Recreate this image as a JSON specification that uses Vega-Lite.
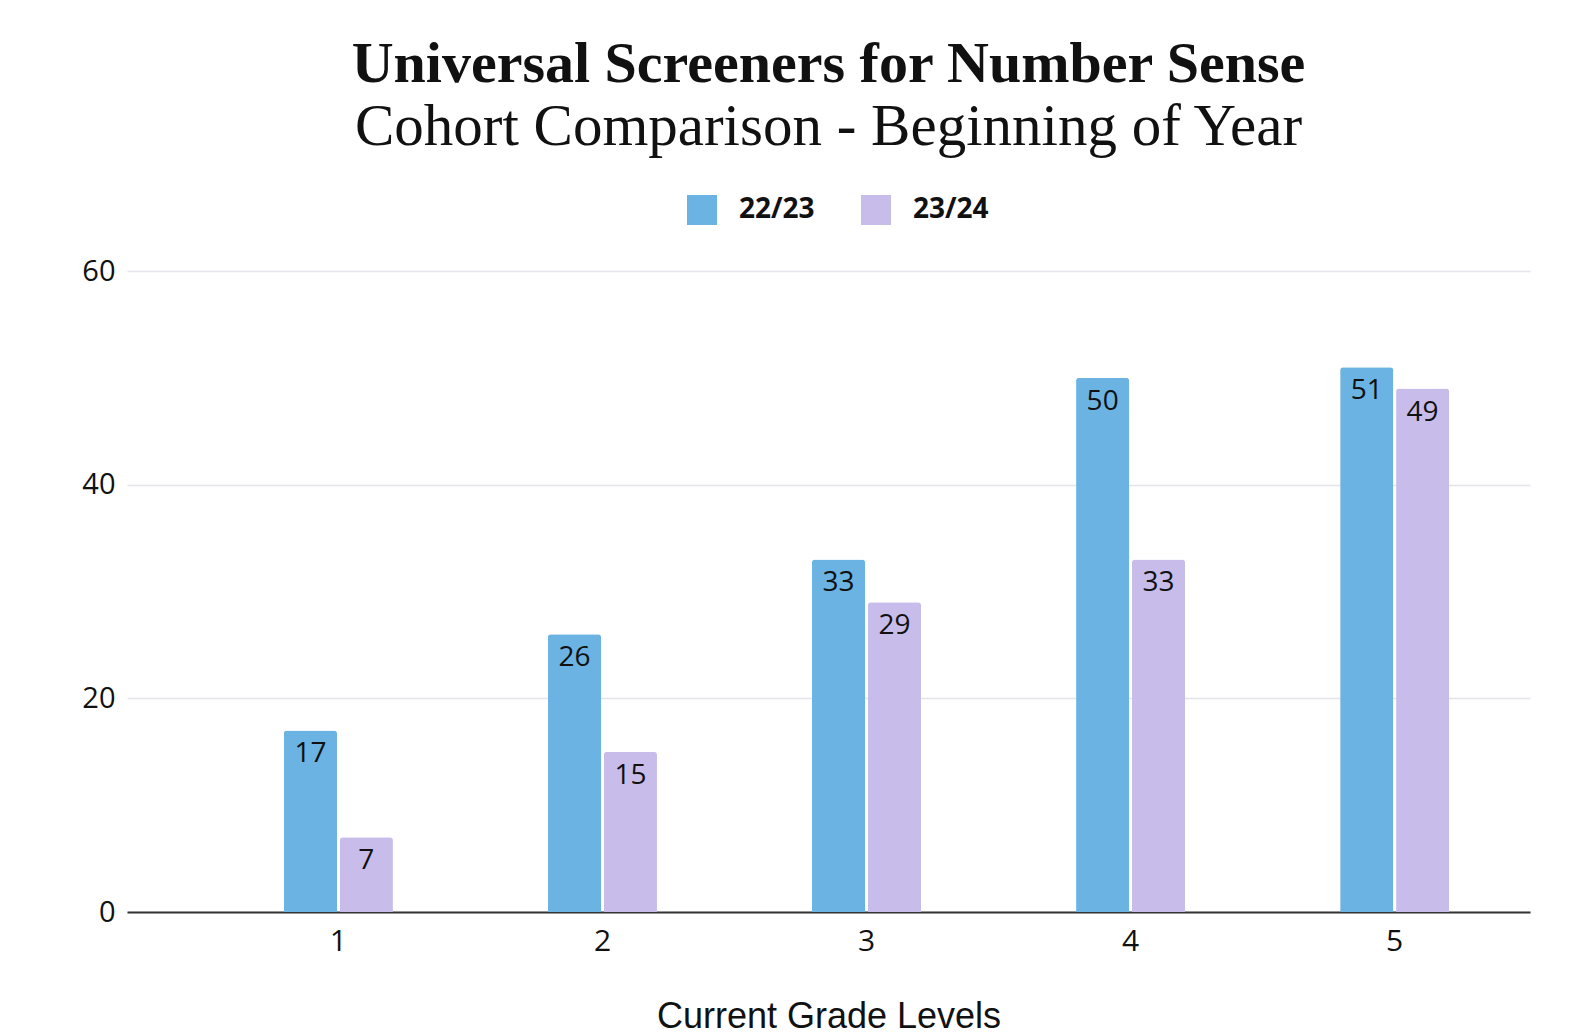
{
  "$schema": "https://vega.github.io/schema/vega-lite/v6.json",
  "autosize": {"type": "none"},
  "padding": {"left": 127, "top": 271, "right": 48, "bottom": 123},
  "width": 1403,
  "height": 641,
  "background": "white",
  "title": {
    "text": "Universal Screeners for Number Sense",
    "subtitle": "Cohort Comparison - Beginning of Year",
    "anchor": "middle",
    "font": "Liberation Serif",
    "fontSize": 58,
    "fontWeight": "bold",
    "color": "#111111",
    "subtitleFont": "Liberation Serif",
    "subtitleFontSize": 59,
    "subtitleColor": "#111111",
    "subtitlePadding": 4,
    "offset": 38
  },
  "data": {
    "values": [
      {"grade": "1", "cohort": "22/23", "value": 17},
      {"grade": "1", "cohort": "23/24", "value": 7},
      {"grade": "2", "cohort": "22/23", "value": 26},
      {"grade": "2", "cohort": "23/24", "value": 15},
      {"grade": "3", "cohort": "22/23", "value": 33},
      {"grade": "3", "cohort": "23/24", "value": 29},
      {"grade": "4", "cohort": "22/23", "value": 50},
      {"grade": "4", "cohort": "23/24", "value": 33},
      {"grade": "5", "cohort": "22/23", "value": 51},
      {"grade": "5", "cohort": "23/24", "value": 49}
    ]
  },
  "encoding": {
    "x": {
      "field": "grade",
      "type": "nominal",
      "scale": {"paddingInner": 0.587, "paddingOuter": 0.45, "align": 0.66},
      "axis": {
        "title": "Current Grade Levels",
        "titleFont": "Liberation Sans",
        "titleFontSize": 36,
        "titleFontWeight": "normal",
        "titleColor": "#111111",
        "titlePadding": 43,
        "labelAngle": 0,
        "labelFont": "Open Sans",
        "labelFontSize": 30,
        "labelColor": "#111111",
        "labelPadding": 14,
        "ticks": false,
        "domainColor": "#333333",
        "domainWidth": 2
      }
    },
    "xOffset": {"field": "cohort", "type": "nominal", "scale": {"paddingInner": 0.05}},
    "y": {
      "field": "value",
      "type": "quantitative",
      "scale": {"domain": [0, 60]},
      "axis": {
        "title": null,
        "values": [0, 20, 40, 60],
        "labelFont": "Open Sans",
        "labelFontSize": 29,
        "labelColor": "#111111",
        "labelPadding": 12,
        "ticks": false,
        "domain": false,
        "gridColor": "#e4e4ec",
        "gridWidth": 1.5
      }
    },
    "color": {
      "field": "cohort",
      "type": "nominal",
      "scale": {"domain": ["22/23", "23/24"], "range": ["#6bb3e2", "#c8bdea"]},
      "legend": {
        "title": null,
        "orient": "none",
        "legendX": 560,
        "legendY": -76,
        "direction": "horizontal",
        "symbolType": "square",
        "symbolSize": 900,
        "symbolStrokeWidth": 0,
        "labelFont": "Open Sans",
        "labelFontSize": 28,
        "labelFontWeight": "bold",
        "labelColor": "#111111",
        "labelOffset": 22,
        "columnPadding": 46
      }
    }
  },
  "layer": [
    {"mark": {"type": "bar", "cornerRadiusTopLeft": 3, "cornerRadiusTopRight": 3}},
    {
      "mark": {"type": "text", "baseline": "top", "dy": 10, "font": "Open Sans", "fontSize": 28, "fontWeight": 500, "color": "#111111"},
      "encoding": {"text": {"field": "value", "type": "quantitative"}, "color": {"value": "#111111"}}
    }
  ],
  "config": {"view": {"stroke": null}}
}
